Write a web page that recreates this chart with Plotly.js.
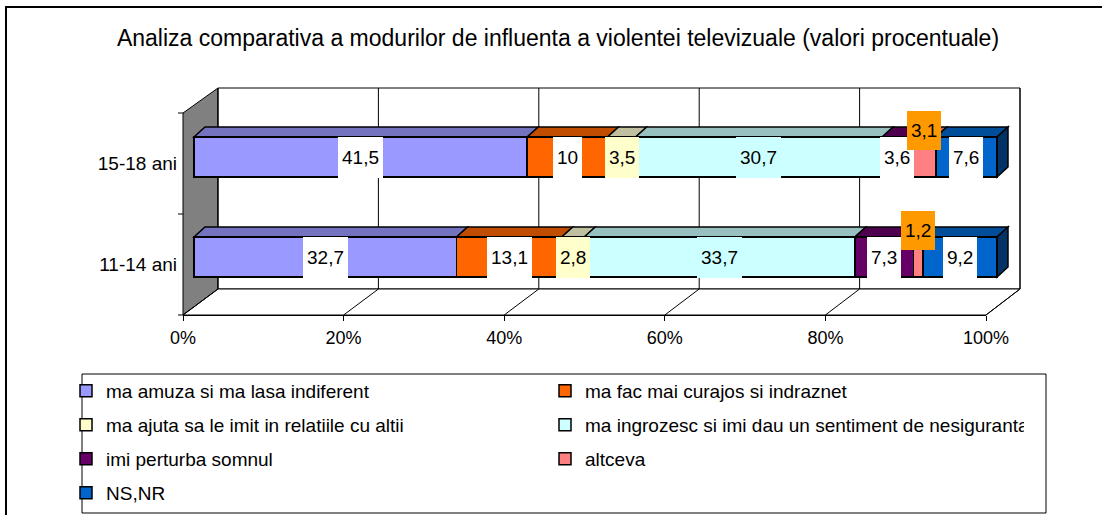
<!DOCTYPE html>
<html>
<head>
<meta charset="utf-8">
<script src="https://cdn.plot.ly/plotly-3.0.1.min.js"></script>
<style>
html,body{margin:0;padding:0;background:#fff;}
#chart{width:1102px;height:515px;}
</style>
</head>
<body>
<div id="chart"></div>
<script>
// ---------------- DATA ----------------
const categories = ['11-14 ani', '15-18 ani'];
const seriesNames = [
  'ma amuza si ma lasa indiferent',
  'ma fac mai curajos si indraznet',
  'ma ajuta sa le imit in relatiile cu altii',
  'ma ingrozesc si imi dau un sentiment de nesiguranta',
  'imi perturba somnul',
  'altceva',
  'NS,NR'
];
const amuza      = [32.7, 41.5];
const curajos    = [13.1, 10];
const imit       = [2.8, 3.5];
const ingrozesc  = [33.7, 30.7];
const somnul     = [7.3, 3.6];
const altceva    = [1.2, 3.1];
const nsnr       = [9.2, 7.6];
const tickValues = [0, 20, 40, 60, 80, 100];
const tickLabels = ['0%', '20%', '40%', '60%', '80%', '100%'];
const chartTitle = 'Analiza comparativa a modurilor de influenta a violentei televizuale (valori procentuale)';

// ---------------- STYLE ----------------
const seriesValues = [amuza, curajos, imit, ingrozesc, somnul, altceva, nsnr];
const frontColors = ['#9999FF', '#FF6600', '#FFFFCC', '#CCFFFF', '#660066', '#FF8080', '#0066CC'];
const topColors   = ['#7373C0', '#C04D00', '#C0C0A0', '#99C0C0', '#4D004D', '#C06060', '#004D99'];
const sideColor   = '#003366';
const labelBg     = ['#FFFFFF', '#FFFFFF', '#FFFFCC', '#CCFFFF', '#FFFFFF', '#FF9900', '#FFFFFF'];
const legendOf    = ['legend', 'legend', 'legend2', 'legend2', 'legend3', 'legend3', 'legend4'];
const FONT = 'Liberation Sans, Arial, sans-serif';

const W = 1102, H = 515;
const PX = x => x / W;
const PY = y => 1 - y / H;

// bar plane: 0% at 194px, 100% at 997px
const pxPerPct = (997 - 194) / 100;
const xr = [-1, 102.5];
const xDom = [PX(194 + xr[0] * pxPerPct), PX(194 + xr[1] * pxPerPct)];
const yDom = [PY(307), PY(107)];          // range [-0.5,1.5] -> 100px per category
const depthX = 11 / pxPerPct;            // 3D depth of the bars in data units
const depthY = 0.1;
const barW = 0.4;

const yIdx = categories.map((c, j) => j);

// ---------------- TRACES ----------------
const traces = seriesValues.map((vals, i) => ({
  type: 'bar',
  orientation: 'h',
  name: seriesNames[i],
  x: vals,
  y: yIdx,
  width: barW,
  xaxis: 'x',
  yaxis: 'y',
  legend: legendOf[i],
  marker: { color: frontColors[i], line: { color: '#000000', width: 1.5 } },
  hoverinfo: 'skip'
}));
// helper trace so the front axes (tick labels) get drawn
traces.push({
  type: 'scatter', mode: 'markers', x: [tickValues[0], tickValues[tickValues.length - 1]], y: yIdx,
  xaxis: 'x2', yaxis: 'y2', marker: { opacity: 0 }, showlegend: false, hoverinfo: 'skip'
});

// ---------------- SHAPES ----------------
const shapes = [];
const pathP = pts => 'M' + pts.map(p => PX(p[0]) + ',' + PY(p[1])).join(' L') + ' Z';
// outer border
shapes.push({ type: 'rect', xref: 'paper', yref: 'paper', x0: PX(6), x1: PX(1115), y0: PY(7), y1: PY(530),
  line: { color: '#000', width: 2 }, fillcolor: 'rgba(0,0,0,0)', layer: 'below' });
// left wall
shapes.push({ type: 'path', xref: 'paper', yref: 'paper', path: pathP([[183, 113], [218, 88], [218, 289], [183, 315]]),
  fillcolor: '#808080', line: { color: '#000', width: 1 }, layer: 'below' });
// back wall
shapes.push({ type: 'rect', xref: 'paper', yref: 'paper', x0: PX(218), x1: PX(1020), y0: PY(289), y1: PY(88),
  fillcolor: '#FFFFFF', line: { color: '#000', width: 1 }, layer: 'below' });
// floor
shapes.push({ type: 'path', xref: 'paper', yref: 'paper', path: pathP([[183, 315], [218, 289], [1020, 289], [986, 315]]),
  fillcolor: '#FFFFFF', line: { color: '#000', width: 1 }, layer: 'below' });
// grid lines on back wall and floor
tickValues.forEach(v => {
  const xb = 218 + v * (1020 - 218) / 100;
  const xf = 183 + v * (986 - 183) / 100;
  shapes.push({ type: 'line', xref: 'paper', yref: 'paper', x0: PX(xb), x1: PX(xb), y0: PY(88), y1: PY(289),
    line: { color: '#000', width: 1 }, layer: 'below' });
  shapes.push({ type: 'line', xref: 'paper', yref: 'paper', x0: PX(xb), x1: PX(xf), y0: PY(289), y1: PY(315),
    line: { color: '#000', width: 1 }, layer: 'below' });
});
// category boundary ticks on left wall edge
[113, 214, 315].forEach(y => {
  shapes.push({ type: 'line', xref: 'paper', yref: 'paper', x0: PX(178), x1: PX(183), y0: PY(y), y1: PY(y),
    line: { color: '#000', width: 1 }, layer: 'below' });
});
// legend border
shapes.push({ type: 'rect', xref: 'paper', yref: 'paper', x0: PX(82), x1: PX(1046), y0: PY(513), y1: PY(374),
  fillcolor: '#FFFFFF', line: { color: '#000', width: 1 }, layer: 'below' });

// 3D top faces and end side, computed from the data
const annotations = [];
categories.forEach((cat, j) => {
  let cum = 0;
  seriesValues.forEach((vals, i) => {
    const a = cum, b = cum + vals[j];
    const yt = j + barW / 2;
    shapes.push({ type: 'path', xref: 'x', yref: 'y',
      path: `M${a},${yt} L${b},${yt} L${b + depthX},${yt + depthY} L${a + depthX},${yt + depthY} Z`,
      fillcolor: topColors[i], line: { color: '#000', width: 1.5 }, layer: 'below' });
    const isOther = (i === 5);
    annotations.push({
      xref: 'x', yref: 'y', x: (a + b) / 2, y: j,
      text: String(vals[j]).replace('.', ','),
      showarrow: false,
      font: { family: FONT, size: 19, color: '#000' },
      bgcolor: labelBg[i], borderpad: 4, borderwidth: 0,
      height: isOther ? 31 : 33,
      yshift: isOther ? 27 : 0
    });
    cum = b;
  });
  const yb = j - barW / 2, yt = j + barW / 2;
  shapes.push({ type: 'path', xref: 'x', yref: 'y',
    path: `M${cum},${yb} L${cum},${yt} L${cum + depthX},${yt + depthY} L${cum + depthX},${yb + depthY} Z`,
    fillcolor: sideColor, line: { color: '#000', width: 1.5 }, layer: 'below' });
});

// ---------------- LEGENDS (one per row) ----------------
const legendRowsY = [391, 425, 459, 493];
const legendBase = {
  orientation: 'h', xanchor: 'left', yanchor: 'middle', x: PX(66),
  bgcolor: 'rgba(0,0,0,0)', borderwidth: 0,
  font: { family: FONT, size: 19, color: '#000' },
  entrywidth: 434, entrywidthmode: 'pixels',
  itemclick: false, itemdoubleclick: false, traceorder: 'normal'
};

const layout = {
  width: W, height: H,
  margin: { l: 0, r: 0, t: 0, b: 0, pad: 0, autoexpand: false },
  paper_bgcolor: '#FFFFFF',
  plot_bgcolor: 'rgba(0,0,0,0)',
  font: { family: FONT, color: '#000' },
  title: { text: chartTitle, font: { family: FONT, size: 23, color: '#000' },
    x: PX(558), xanchor: 'center', y: PY(38), yanchor: 'middle' },
  barmode: 'stack',
  bargap: 0,
  hovermode: false,
  showlegend: true,
  xaxis: { domain: xDom, range: xr, fixedrange: true, showgrid: false, zeroline: false,
    showticklabels: false, ticks: '', showline: false },
  yaxis: { domain: yDom, range: [-0.5, 1.5], fixedrange: true, showgrid: false, zeroline: false,
    showticklabels: false, ticks: '', showline: false },
  xaxis2: { domain: [PX(183), PX(986)], range: [0, 100], anchor: 'free', position: PY(315),
    fixedrange: true, showgrid: false, zeroline: false, showline: true, linecolor: '#000', linewidth: 1,
    tickmode: 'array', tickvals: tickValues, ticktext: tickLabels,
    ticks: 'outside', ticklen: 5, tickcolor: '#000', ticklabelstandoff: 1,
    tickfont: { family: FONT, size: 18, color: '#000' } },
  yaxis2: { domain: [PY(314.5), PY(112.5)], range: [-0.5, 1.5], anchor: 'free', position: PX(183),
    fixedrange: true, showgrid: false, zeroline: false, showline: false,
    tickmode: 'array', tickvals: yIdx, ticktext: categories, ticks: '', ticklabelstandoff: 6,
    tickfont: { family: FONT, size: 19, color: '#000' } },
  legend:  Object.assign({}, legendBase, { y: PY(legendRowsY[0]) }),
  legend2: Object.assign({}, legendBase, { y: PY(legendRowsY[1]) }),
  legend3: Object.assign({}, legendBase, { y: PY(legendRowsY[2]) }),
  legend4: Object.assign({}, legendBase, { y: PY(legendRowsY[3]) }),
  shapes: shapes,
  annotations: annotations
};

Plotly.newPlot('chart', traces, layout, { displayModeBar: false, staticPlot: true });
</script>
</body>
</html>
